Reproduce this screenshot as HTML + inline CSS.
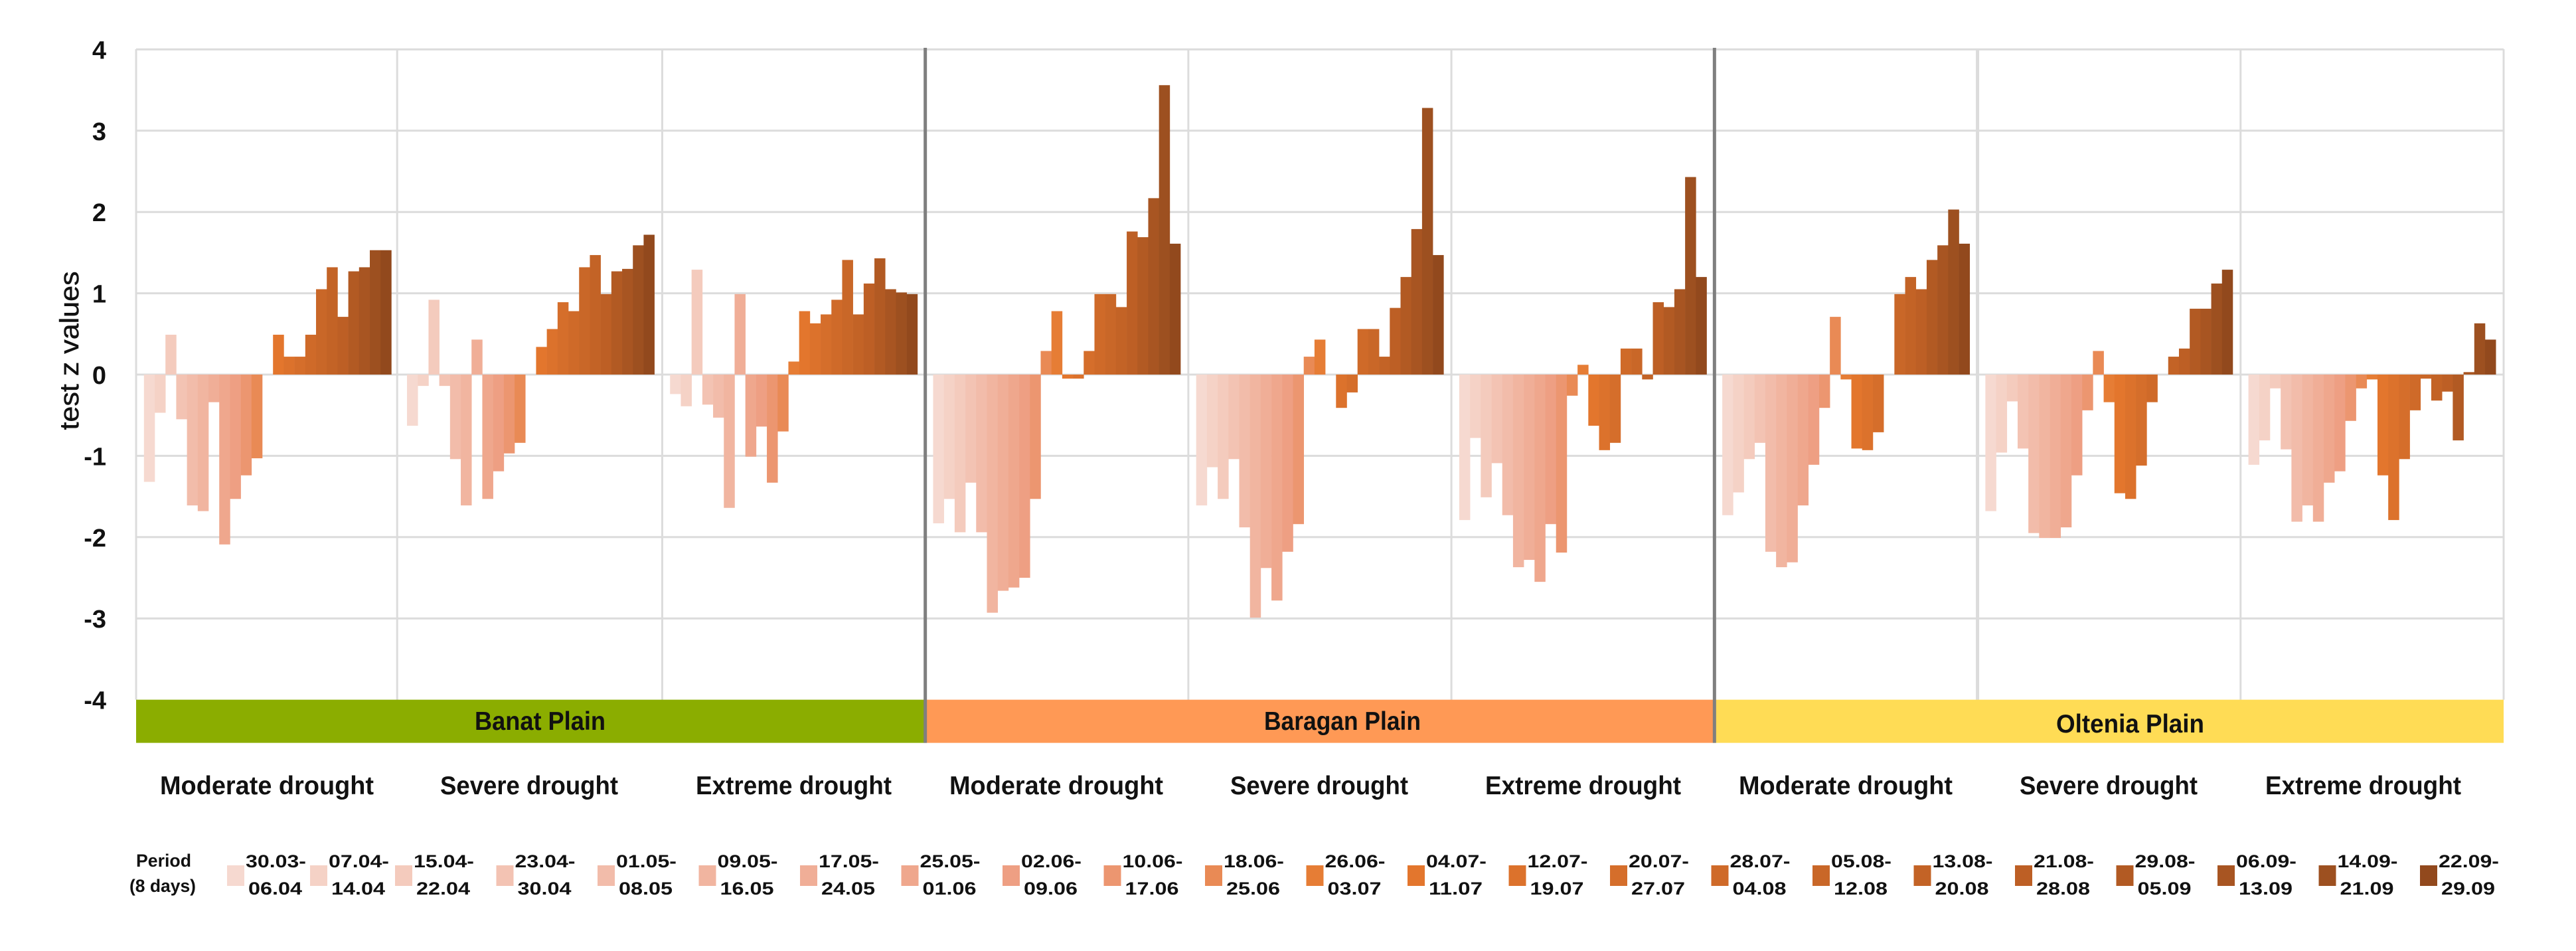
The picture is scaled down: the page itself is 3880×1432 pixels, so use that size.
<!DOCTYPE html>
<html lang="en">
<head>
<meta charset="utf-8">
<title>Test z values by plain and drought class</title>
<style>
html,body{margin:0;padding:0;background:#fff;width:3880px;height:1432px;overflow:hidden}
svg{display:block}
text{font-family:"Liberation Sans",sans-serif;fill:#111}
</style>
</head>
<body>
<svg id="chart" xmlns="http://www.w3.org/2000/svg" width="3880" height="1432" viewBox="0 0 3880 1432"></svg>
<script>
const yTicks = [4, 3, 2, 1, 0, -1, -2, -3, -4];
const periods = ["30.03-|06.04","07.04-|14.04","15.04-|22.04","23.04-|30.04","01.05-|08.05","09.05-|16.05","17.05-|24.05","25.05-|01.06","02.06-|09.06","10.06-|17.06","18.06-|25.06","26.06-|03.07","04.07-|11.07","12.07-|19.07","20.07-|27.07","28.07-|04.08","05.08-|12.08","13.08-|20.08","21.08-|28.08","29.08-|05.09","06.09-|13.09","14.09-|21.09","22.09-|29.09"];
const droughtClasses = ["Moderate drought", "Severe drought", "Extreme drought"];
const plains = ["Banat Plain", "Baragan Plain", "Oltenia Plain"];

const banatModerate = [-1.32,-0.47,0.49,-0.55,-1.61,-1.68,-0.34,-2.09,-1.53,-1.24,-1.03,0,0.49,0.22,0.22,0.49,1.05,1.32,0.71,1.27,1.32,1.53,1.53];
const banatSevere = [-0.63,-0.14,0.92,-0.14,-1.04,-1.61,0.43,-1.53,-1.19,-0.97,-0.84,0,0.34,0.56,0.89,0.78,1.32,1.47,0.99,1.27,1.30,1.59,1.72];
const banatExtreme = [-0.24,-0.39,1.29,-0.37,-0.53,-1.64,0.99,-1.01,-0.64,-1.33,-0.70,0.16,0.78,0.63,0.74,0.92,1.41,0.74,1.12,1.43,1.05,1.01,0.99];
const baraganModerate = [-1.83,-1.53,-1.94,-1.33,-1.94,-2.93,-2.66,-2.62,-2.50,-1.53,0.29,0.78,-0.05,-0.05,0.29,0.99,0.99,0.83,1.76,1.69,2.17,3.56,1.61];
const baraganSevere = [-1.61,-1.14,-1.53,-1.04,-1.88,-2.99,-2.38,-2.78,-2.18,-1.84,0.22,0.43,0,-0.41,-0.22,0.56,0.56,0.22,0.82,1.20,1.79,3.28,1.47];
const baraganExtreme = [-1.79,-0.78,-1.51,-1.09,-1.73,-2.37,-2.28,-2.55,-1.84,-2.19,-0.26,0.12,-0.63,-0.93,-0.84,0.32,0.32,-0.06,0.89,0.83,1.05,2.43,1.20];
const olteniaModerate = [-1.73,-1.45,-1.04,-0.84,-2.18,-2.37,-2.31,-1.61,-1.11,-0.41,0.71,-0.06,-0.91,-0.93,-0.71,0,0.99,1.20,1.05,1.41,1.59,2.03,1.61];
const olteniaSevere = [-1.68,-0.96,-0.33,-0.91,-1.95,-2.01,-2.01,-1.88,-1.24,-0.44,0.29,-0.34,-1.46,-1.53,-1.12,-0.34,0,0.22,0.32,0.81,0.81,1.12,1.29];
const olteniaExtreme = [-1.11,-0.81,-0.17,-0.92,-1.81,-1.61,-1.81,-1.33,-1.19,-0.57,-0.17,-0.06,-1.24,-1.79,-1.04,-0.44,-0.05,-0.32,-0.21,-0.81,0.03,0.63,0.43];

const panels = [banatModerate, banatSevere, banatExtreme, baraganModerate, baraganSevere, baraganExtreme, olteniaModerate, olteniaSevere, olteniaExtreme];
const panelNames = ["banat-moderate","banat-severe","banat-extreme","baragan-moderate","baragan-severe","baragan-extreme","oltenia-moderate","oltenia-severe","oltenia-extreme"];

const periodColors = ["#f6d9d0","#f5d2c6","#f4cbbd","#f3c3b3","#f2bcaa","#f1b5a0","#f0ae97","#efa78d","#ee9f83","#ec9670","#e98a55","#e67d35","#e3762d","#dc722c","#d56e2b","#cf6a29","#c96728","#c36326","#bd5f25","#b25a23","#a85522","#9d5020","#92491d"];
const plainColors = ["#8bad00", "#ff9955", "#ffdc55"];

const svg = document.getElementById('chart');
const NS = 'http://www.w3.org/2000/svg';
const plotLeft = 205, plotRight = 3771, plotTop = 74, plotBottom = 1053.6;
const panelWidth = (plotRight - plotLeft) / panels.length;
const barWidth = 16.2;
const barsInset = (panelWidth - barWidth * periods.length) / 2;

function yScale(v) { return 564 - v * 122.4; }
function barX(panel, i) { return plotLeft + panel * panelWidth + barsInset + i * barWidth; }
function legendX(i) { return i === 0 ? 342 : i === 1 ? 467 : 595 + (i - 2) * 152.5; }

function add(tag, attrs, parent) {
  const el = document.createElementNS(NS, tag);
  for (const k in attrs) el.setAttribute(k, attrs[k]);
  (parent || svg).appendChild(el);
  return el;
}

// gridlines
yTicks.slice(0, -1).forEach(function (t) {
  const line = add('line', {x1: plotLeft, x2: plotRight, y1: yScale(t), y2: yScale(t), stroke: '#dcdcdc', 'stroke-width': 3});
  
  
});
// panel separators (light)
for (let p = 0; p <= panels.length; p++) {
  if (p % 3 === 0 && p > 0 && p < panels.length) continue;
  const x = plotLeft + p * panelWidth - (p === 1 ? 3 : 0);
  const line = add('line', {x1: x, x2: x, y1: plotTop, y2: plotBottom, stroke: '#dcdcdc', 'stroke-width': p === 7 ? 5 : 3});
  
  
}

// bars
panels.forEach(function (values, p) {
  const g = add('g', {});
  
  
  values.forEach(function (v, i) {
    const y0 = yScale(0), y1 = yScale(v);
    const r = add('rect', {x: barX(p, i), y: Math.min(y0, y1), width: barWidth + 0.3, height: Math.abs(y1 - y0), fill: periodColors[i]}, g);
    
    
  });
});

// plain bands
plains.forEach(function (name, k) {
  const x = plotLeft + k * 3 * panelWidth;
  const band = add('rect', {x: x, y: plotBottom, width: 3 * panelWidth, height: 65, fill: plainColors[k]});
  
  
});

// heavy separators between plains
[3, 6].forEach(function (p) {
  const x = plotLeft + p * panelWidth;
  const line = add('line', {x1: x, x2: x, y1: 72, y2: 1118.6, stroke: '#7f7f7f', 'stroke-width': 5});
  
  
});

// band labels
const bandLabelSpan = [197, 236, 223];
plains.forEach(function (name, k) {
  const cx = [813.5, 2022, 3208.5][k];
  const t = add('text', {x: cx, y: k === 2 ? 1103 : 1099, 'text-anchor': 'middle', 'font-size': 39, 'font-weight': 700, textLength: bandLabelSpan[k], lengthAdjust: 'spacingAndGlyphs'});
  t.textContent = name;
  
  
});

// drought class labels
const droughtLabelStart = [241, 663, 1048, 1430, 1853, 2237, 2619, 3042, 3412];
panels.forEach(function (values, p) {
  const label = droughtClasses[p % 3];
  const len = [322, 268, 295][p % 3];
  const t = add('text', {x: droughtLabelStart[p], y: 1196, 'font-size': 39, 'font-weight': 700, textLength: len, lengthAdjust: 'spacingAndGlyphs'});
  t.textContent = label;
  
  
});

// y ticks
yTicks.forEach(function (t) {
  const el = add('text', {x: 160, y: yScale(t) + 14, 'text-anchor': 'end', 'font-size': 38, 'font-weight': 700});
  el.textContent = String(t);
  
  
});

// y title
const title = add('text', {transform: 'translate(118,528) rotate(-90)', 'text-anchor': 'middle', 'font-size': 40, textLength: 239, lengthAdjust: 'spacingAndGlyphs', stroke: '#111', 'stroke-width': 0.5});
title.textContent = 'test z values';



// legend
const legendTitleA = add('text', {x: 246.5, y: 1305, 'text-anchor': 'middle', 'font-size': 27, 'font-weight': 700, textLength: 83, lengthAdjust: 'spacingAndGlyphs'});
legendTitleA.textContent = 'Period';


const legendTitleB = add('text', {x: 245, y: 1343, 'text-anchor': 'middle', 'font-size': 27, 'font-weight': 700, textLength: 100, lengthAdjust: 'spacingAndGlyphs'});
legendTitleB.textContent = '(8 days)';



periods.forEach(function (label, i) {
  const parts = label.split('|');
  const x = legendX(i);
  const g = add('g', {});
  
  
  const sw = add('rect', {x: x, y: 1303, width: 26, height: 31, fill: periodColors[i]}, g);
  
  
  const a = add('text', {x: x + 28, y: 1306, 'font-size': 27, 'font-weight': 700, textLength: 91, lengthAdjust: 'spacingAndGlyphs'}, g);
  a.textContent = parts[0];
  
  
  const b = add('text', {x: x + 32, y: 1347, 'font-size': 27, 'font-weight': 700, textLength: 81, lengthAdjust: 'spacingAndGlyphs'}, g);
  b.textContent = parts[1];
  
  
});
</script>
</body>
</html>
